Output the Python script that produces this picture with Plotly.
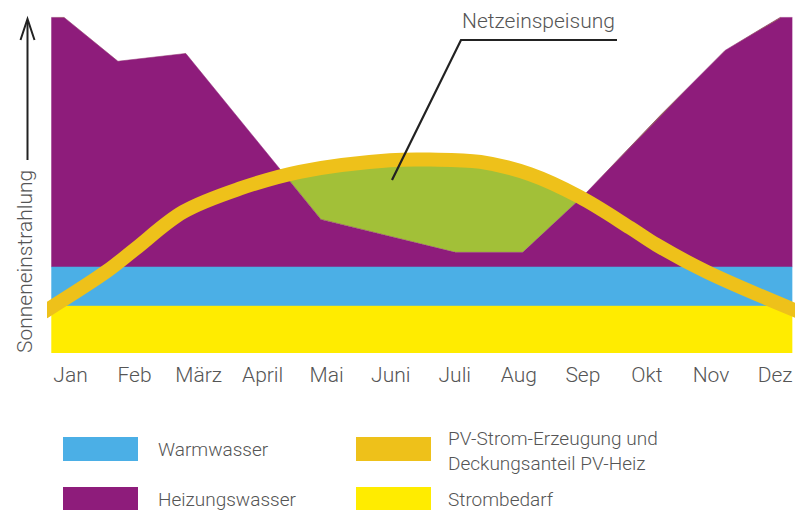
import numpy as np
import plotly.graph_objects as go

# ---------------- data ----------------
months = ["Jan", "Feb", "März", "April", "Mai", "Juni", "Juli", "Aug", "Sep", "Okt", "Nov", "Dez"]
month_pos = [0, 1, 2, 3, 4, 5, 6, 7, 8, 9, 10, 11]

# position along the year (in months, Jan = 0) of the area break points
area_x = [-0.30, -0.10, 0.74, 1.80, 3.91, 6.01, 7.06, 8.00, 9.21, 10.22, 11.08, 11.27]
strombedarf = [13.8, 13.8, 13.8, 13.8, 13.8, 13.8, 13.8, 13.8, 13.8, 13.8, 13.8, 13.8]
warmwasser = [11.5, 11.5, 11.5, 11.5, 11.5, 11.5, 11.5, 11.5, 11.5, 11.5, 11.5, 11.5]
heizungswasser = [73.4, 73.4, 60.5, 62.8, 14.0, 4.3, 4.3, 20.8, 44.6, 63.7, 73.4, 73.4]

# PV-Strom-Erzeugung (Sonneneinstrahlung)
pv_x = [-0.42, 0.57, 1.01, 1.76, 2.65, 3.58, 4.99, 5.61, 6.40, 7.17, 7.95, 8.74, 9.15, 9.93, 11.36]
pv_y = [12.0, 24.1, 30.6, 41.5, 48.4, 53.3, 56.7, 56.9, 56.2, 52.6, 45.9, 36.8, 31.8, 23.9, 12.2]

legend_names = ["Warmwasser", "Heizungswasser",
                "PV-Strom-Erzeugung und<br>Deckungsanteil PV-Heiz", "Strombedarf"]

# ---------------- styles ----------------
C_PURPLE = "#8E1C7B"
C_BLUE = "#4BAFE6"
C_YELLOW = "#FFEC00"
C_ORANGE = "#EEC11A"
C_GREEN = "#A2C038"
C_TEXT = "#555555"
FONT = "Roboto"

W, H = 807, 510
ML, MR, MT, MB = 47, 12, 13, 157
PW, PH = W - ML - MR, H - MT - MB


def px(x):
    return (x - ML) / PW


def py(y):
    return (H - MB - y) / PH


ax = np.array(area_x)
y1 = np.array(strombedarf)
y2 = y1 + np.array(warmwasser)
y3 = y2 + np.array(heizungswasser)

# green area: where PV exceeds the heating demand
gx = np.linspace(area_x[0], area_x[-1], 600)
g_pv = np.interp(gx, pv_x, pv_y)
g_heat = np.interp(gx, ax, y3)
g_top = np.maximum(g_pv, g_heat)

fig = go.Figure()
fig.add_trace(go.Scatter(x=ax, y=y1, mode="lines", fill="tozeroy", fillcolor=C_YELLOW,
                         line=dict(width=0.5, color=C_YELLOW), hoverinfo="skip", showlegend=False))
fig.add_trace(go.Scatter(x=ax, y=y2, mode="lines", fill="tonexty", fillcolor=C_BLUE,
                         line=dict(width=0.5, color=C_BLUE), hoverinfo="skip", showlegend=False))
fig.add_trace(go.Scatter(x=ax, y=y3, mode="lines", fill="tonexty", fillcolor=C_PURPLE,
                         line=dict(width=0.5, color=C_PURPLE), hoverinfo="skip", showlegend=False))
fig.add_trace(go.Scatter(x=gx, y=g_top, mode="lines", fill="tonexty", fillcolor=C_GREEN,
                         line=dict(width=0, color=C_GREEN), hoverinfo="skip", showlegend=False))
fig.add_trace(go.Scatter(x=pv_x, y=pv_y, mode="lines",
                         line=dict(width=14, color=C_ORANGE, shape="spline", smoothing=1.0),
                         hoverinfo="skip", showlegend=False))

x_left = -(70.5 - ML) / 64.05
x_right = x_left + PW / 64.05

fig.update_xaxes(range=[x_left, x_right], tickvals=month_pos, ticktext=months,
                 showgrid=False, zeroline=False, showline=False, ticks="",
                 ticklabelstandoff=7,
                 tickfont=dict(family=FONT, size=21, color=C_TEXT, weight=300),
                 fixedrange=True)
fig.update_yaxes(range=[0, 100], showgrid=False, zeroline=False, showline=False,
                 showticklabels=False, fixedrange=True)

shapes = []
annotations = []

# y-axis arrow
shapes.append(dict(type="line", xref="paper", yref="paper",
                   x0=px(27.5), y0=py(160), x1=px(27.5), y1=py(20),
                   line=dict(color="#222222", width=2)))
shapes.append(dict(type="path", xref="paper", yref="paper",
                   path=f"M {px(20.5)} {py(40)} L {px(27.5)} {py(19)} L {px(34.5)} {py(40)}",
                   line=dict(color="#222222", width=2)))
annotations.append(dict(text="Sonneneinstrahlung", xref="paper", yref="paper",
                        x=px(25), y=py(262), textangle=-90, showarrow=False,
                        xanchor="center", yanchor="middle",
                        font=dict(family=FONT, size=21, color=C_TEXT, weight=300)))

# Netzeinspeisung callout
shapes.append(dict(type="path", xref="paper", yref="paper",
                   path=f"M {px(617)} {py(40)} L {px(461)} {py(40)} L {px(392)} {py(180)}",
                   line=dict(color="#222222", width=2.2)))
annotations.append(dict(text="Netzeinspeisung", xref="paper", yref="paper",
                        x=px(460), y=py(21), showarrow=False, xanchor="left", yanchor="middle",
                        font=dict(family=FONT, size=21, color=C_TEXT, weight=300)))

# custom legend
legend_items = [
    (legend_names[0], C_BLUE, 63, 437, 156, 450),
    (legend_names[1], C_PURPLE, 63, 487, 156, 499),
    (legend_names[2], C_ORANGE, 356, 437, 446, 451),
    (legend_names[3], C_YELLOW, 356, 487, 446, 499),
]
for name, col, sx, sy, tx, ty in legend_items:
    shapes.append(dict(type="rect", xref="paper", yref="paper",
                       x0=px(sx), x1=px(sx + 75), y0=py(sy + 24), y1=py(sy),
                       fillcolor=col, line=dict(width=0)))
    annotations.append(dict(text=name, xref="paper", yref="paper", x=px(tx), y=py(ty),
                            showarrow=False, xanchor="left", yanchor="middle", align="left",
                            font=dict(family=FONT, size=19, color=C_TEXT, weight=300)))

fig.update_layout(width=W, height=H, margin=dict(l=ML, r=MR, t=MT, b=MB, pad=0),
                  paper_bgcolor="white", plot_bgcolor="white",
                  shapes=shapes, annotations=annotations, showlegend=False,
                  font=dict(family=FONT))

fig.write_html("out.html", config={"displayModeBar": False},
               post_script="document.body.style.margin='0px';document.body.style.overflow='hidden';")
